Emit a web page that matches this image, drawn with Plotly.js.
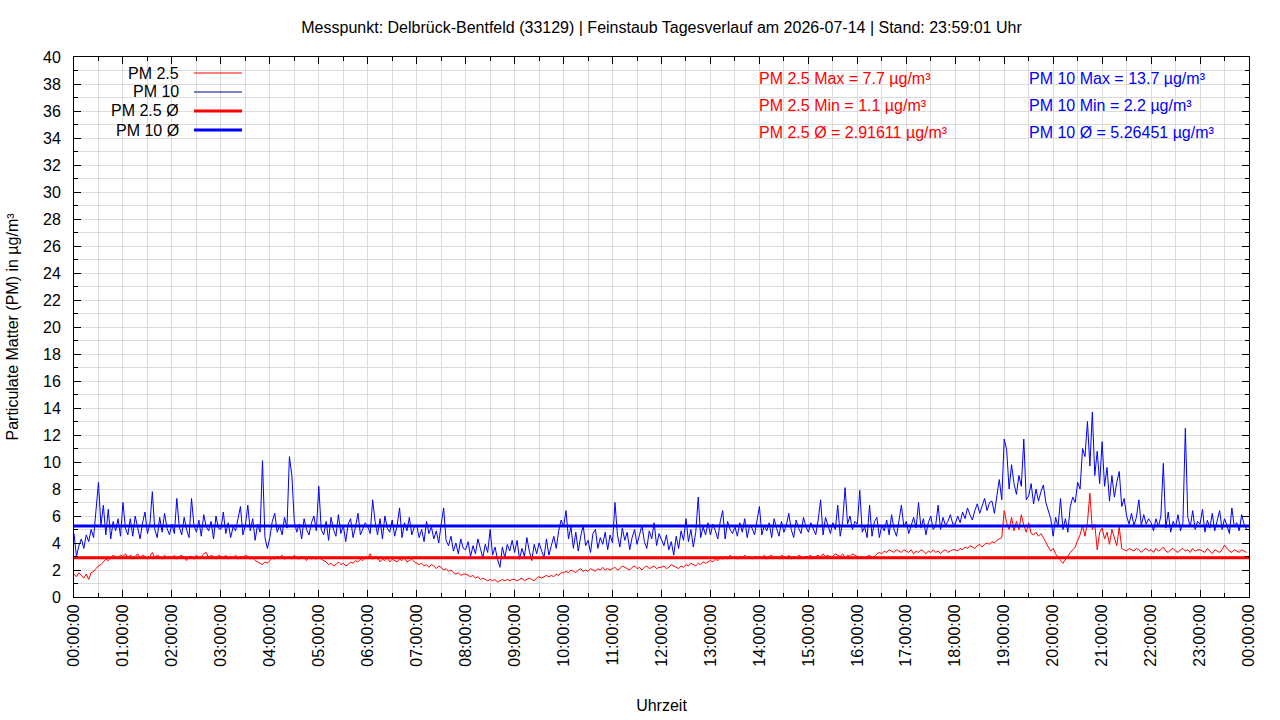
<!DOCTYPE html>
<html>
<head>
<meta charset="utf-8">
<script src="https://cdn.plot.ly/plotly-3.0.1.min.js"></script>
<style>
  html, body { margin: 0; padding: 0; background: #ffffff; }
  #chart { width: 1280px; height: 720px; }
</style>
</head>
<body>
<div id="chart"></div>
<script>
//Feinstaub Tagesverlauf, one value every 3 minutes
var dayStart = '2026-07-14';
var dayEnd = '2026-07-15';
var stepMinutes = 3;

//PM 10 in ug/m3, 20 values per hour, 00:00 ... 23:57
var pm10 = [
    4.7, 3.0, 3.8, 4.3, 3.6, 4.6, 4.1, 5.0, 4.4, 6.2, 8.5, 5.3, 6.8, 4.6, 6.5, 4.3, 5.6, 4.9, 5.8, 4.5,   //00
    7.0, 5.1, 4.6, 5.8, 4.5, 6.0, 5.2, 4.3, 5.5, 6.3, 4.7, 5.4, 7.8, 5.0, 4.4, 5.9, 4.8, 6.2, 5.1, 4.6,   //01
    5.4, 4.7, 7.3, 5.2, 4.6, 5.9, 5.0, 4.4, 7.3, 5.3, 4.8, 5.7, 4.5, 6.1, 5.2, 4.9, 5.6, 4.3, 6.0, 5.1,   //02
    5.0, 6.3, 4.7, 5.5, 4.4, 5.2, 4.9, 5.8, 6.7, 4.6, 5.3, 6.8, 4.9, 5.8, 4.2, 5.4, 4.8, 10.1, 4.4, 3.6,  //03
    4.4, 5.6, 6.2, 4.8, 5.3, 4.6, 5.9, 5.1, 10.4, 9.0, 5.6, 4.8, 5.4, 4.3, 5.8, 5.0, 4.6, 5.5, 6.0, 4.9,  //04
    8.2, 5.0, 4.6, 5.6, 4.2, 5.9, 5.0, 4.5, 6.1, 4.7, 5.3, 4.1, 5.4, 5.8, 4.4, 5.2, 6.2, 4.6, 5.0, 5.5,   //05
    5.2, 4.7, 7.2, 5.6, 4.6, 5.8, 4.3, 6.0, 5.1, 4.8, 5.7, 4.5, 5.3, 6.6, 4.4, 5.5, 4.9, 5.9, 4.6, 5.2,   //06
    5.3, 4.4, 5.0, 4.1, 5.6, 4.7, 5.2, 4.3, 4.9, 4.0, 5.4, 6.6, 4.2, 3.8, 4.5, 3.4, 4.0, 3.2, 4.3, 3.6,   //07
    3.5, 4.1, 3.0, 3.8, 3.2, 4.3, 3.6, 2.9, 3.9, 3.3, 5.0, 3.1, 3.7, 2.8, 2.2, 3.7, 2.9, 3.9, 3.4, 4.2,   //08
    3.3, 4.2, 2.8, 3.6, 3.0, 4.4, 3.4, 2.7, 3.9, 3.2, 4.0, 3.5, 2.9, 4.3, 3.1, 3.8, 4.5, 3.6, 4.9, 5.7,   //09
    5.2, 6.4, 4.3, 5.2, 3.6, 4.8, 3.4, 4.5, 5.3, 3.8, 4.2, 3.3, 4.7, 5.0, 3.6, 4.4, 3.9, 4.8, 3.5, 4.6,   //10
    4.0, 7.0, 4.6, 3.7, 5.1, 4.2, 4.8, 3.5, 4.4, 5.0, 3.9, 4.6, 5.3, 4.1, 3.6, 4.9, 4.3, 5.5, 3.8, 4.7,   //11
    4.3, 3.8, 4.6, 3.5, 4.1, 3.1, 4.5, 3.6, 4.9, 4.2, 5.8, 4.1, 5.0, 3.7, 4.8, 7.4, 4.4, 5.2, 4.6, 5.5,   //12
    4.6, 5.4, 4.9, 4.3, 5.6, 6.4, 4.3, 5.6, 5.0, 4.7, 5.2, 4.5, 5.5, 4.8, 5.8, 4.4, 5.3, 5.1, 4.6, 5.7,   //13
    6.7, 4.6, 5.3, 4.9, 5.5, 4.4, 5.8, 5.1, 4.5, 5.6, 4.8, 5.3, 6.2, 5.0, 4.4, 5.7, 5.1, 4.7, 5.9, 5.2,   //14
    4.8, 5.5, 5.0, 4.6, 5.7, 7.2, 4.6, 5.9, 5.3, 4.7, 5.5, 5.0, 6.8, 4.5, 5.6, 8.1, 5.4, 6.0, 5.0, 5.6,   //15
    5.4, 7.9, 4.8, 5.2, 4.4, 6.8, 4.5, 5.6, 5.9, 4.4, 5.3, 4.9, 5.7, 4.6, 6.1, 5.0, 4.5, 5.5, 6.8, 5.2,   //16
    5.6, 4.7, 5.4, 5.9, 5.1, 7.0, 5.1, 5.8, 4.6, 5.5, 6.0, 5.0, 5.3, 6.8, 5.0, 5.9, 5.3, 5.6, 6.1, 5.4,   //17
    5.4, 6.0, 5.5, 6.3, 5.8, 6.6, 6.1, 5.7, 6.4, 6.9, 6.2, 6.8, 7.3, 6.4, 7.0, 7.1, 6.2, 7.5, 8.7, 7.2,   //18
    11.7, 10.9, 8.0, 9.8, 8.4, 7.6, 9.0, 8.2, 11.7, 7.2, 7.5, 8.4, 6.9, 8.0, 7.1, 7.8, 8.3, 7.0, 6.4, 5.8, //19
    4.5, 5.9, 5.2, 7.3, 5.0, 5.8, 4.8, 6.7, 7.4, 7.0, 8.5, 8.0, 11.0, 10.4, 13.0, 9.7, 13.7, 9.0, 10.8, 8.4, //20
    11.5, 8.2, 9.6, 7.1, 9.0, 7.4, 8.5, 9.3, 6.7, 7.3, 6.0, 5.4, 6.2, 5.3, 5.9, 7.2, 5.3, 6.1, 5.4, 5.8,  //21
    5.5, 4.9, 5.8, 5.2, 6.0, 9.9, 5.1, 6.3, 4.8, 5.6, 5.2, 6.1, 4.9, 5.5, 12.5, 5.9, 5.2, 6.4, 5.0, 5.6,  //22
    5.4, 6.5, 4.8, 5.7, 5.1, 6.2, 4.9, 5.6, 6.4, 5.0, 5.8, 5.3, 4.7, 6.6, 5.2, 5.5, 4.9, 6.1, 5.4, 5.0    //23
];

//PM 2.5 in ug/m3, same time steps
var pm25 = [
    1.7, 1.5, 1.8, 1.6, 1.4, 1.7, 1.3, 1.8, 1.9, 2.1, 2.3, 2.4, 2.6, 2.8, 2.7, 2.9, 3.1, 3.0, 2.9, 3.1,   //00
    3.0, 3.2, 2.9, 3.1, 2.8, 3.0, 3.2, 2.9, 3.1, 3.0, 2.8, 3.0, 3.3, 2.9, 3.1, 3.0, 2.8, 3.1, 2.9, 3.0,   //01
    2.9, 3.1, 2.8, 3.0, 3.1, 2.9, 2.7, 3.0, 3.0, 2.8, 3.1, 2.9, 3.0, 3.2, 3.3, 2.9, 3.1, 3.0, 2.8, 3.1,   //02
    3.0, 2.9, 3.1, 2.8, 3.0, 2.9, 3.1, 2.8, 3.0, 2.9, 3.1, 3.0, 2.8, 2.9, 2.7, 2.6, 2.5, 2.4, 2.6, 2.5,   //03
    2.7, 2.9, 2.8, 3.0, 2.9, 3.1, 2.8, 2.9, 3.0, 2.8, 3.1, 2.9, 2.8, 3.0, 2.9, 2.7, 3.0, 2.8, 2.9, 2.8,   //04
    2.9, 2.8, 2.7, 2.6, 2.4, 2.5, 2.3, 2.4, 2.6, 2.4, 2.5, 2.3, 2.4, 2.6, 2.5, 2.7, 2.6, 2.8, 2.7, 2.9,   //05
    2.9, 3.2, 2.8, 3.0, 2.9, 2.6, 2.8, 2.7, 2.9, 2.6, 2.8, 2.7, 2.6, 2.8, 2.7, 2.9, 2.6, 2.7, 2.8, 2.6,   //06
    2.5, 2.4, 2.5, 2.3, 2.4, 2.2, 2.4, 2.3, 2.1, 2.3, 2.2, 2.0, 2.1, 1.9, 2.0, 1.8, 1.7, 1.8, 1.6, 1.7,   //07
    1.7, 1.6, 1.5, 1.6, 1.4, 1.5, 1.3, 1.4, 1.3, 1.2, 1.3, 1.2, 1.3, 1.1, 1.2, 1.3, 1.2, 1.3, 1.2, 1.3,   //08
    1.3, 1.2, 1.3, 1.4, 1.2, 1.3, 1.4, 1.3, 1.2, 1.4, 1.5, 1.4, 1.5, 1.6, 1.5, 1.6, 1.5, 1.7, 1.6, 1.8,   //09
    1.8, 1.9, 1.8, 2.0, 1.9, 1.8, 2.0, 2.1, 1.9, 2.0, 1.9, 2.1, 2.0, 1.9, 2.1, 2.0, 2.2, 2.0, 2.1, 2.0,   //10
    2.1, 2.2, 2.0, 2.1, 2.3, 2.2, 2.1, 2.0, 2.2, 2.3, 2.1, 2.2, 2.0, 2.2, 2.3, 2.1, 2.2, 2.3, 2.1, 2.2,   //11
    2.2, 2.3, 2.1, 2.2, 2.4, 2.3, 2.2, 2.1, 2.3, 2.2, 2.4, 2.3, 2.5, 2.4, 2.3, 2.5, 2.4, 2.6, 2.5, 2.6,   //12
    2.7, 2.6, 2.8, 2.7, 2.9, 2.8, 3.0, 2.8, 3.1, 2.9, 3.0, 2.8, 3.0, 2.9, 3.1, 2.9, 3.0, 2.8, 3.0, 2.9,   //13
    3.0, 2.9, 3.1, 2.8, 3.0, 3.1, 2.9, 3.0, 2.8, 3.1, 3.0, 2.9, 3.1, 2.8, 3.0, 2.9, 3.1, 3.0, 2.9, 3.0,   //14
    3.0, 3.1, 2.9, 3.0, 3.1, 2.9, 3.2, 3.0, 3.1, 2.9, 3.0, 3.2, 3.1, 3.0, 3.2, 2.9, 3.1, 3.0, 3.2, 3.1,   //15
    3.0, 2.9, 3.0, 2.9, 3.0, 3.1, 2.9, 3.0, 3.2, 3.3, 3.2, 3.4, 3.3, 3.5, 3.4, 3.3, 3.5, 3.4, 3.3, 3.5,   //16
    3.4, 3.3, 3.5, 3.2, 3.4, 3.3, 3.5, 3.4, 3.2, 3.4, 3.3, 3.5, 3.3, 3.4, 3.2, 3.4, 3.5, 3.3, 3.4, 3.5,   //17
    3.5, 3.4, 3.6, 3.5, 3.7, 3.6, 3.8, 3.7, 3.6, 3.8, 3.9, 3.7, 3.9, 4.0, 3.9, 4.1, 4.0, 4.2, 4.3, 4.4,   //18
    6.4, 5.5, 5.0, 5.9, 4.9, 5.6, 5.0, 6.1, 5.3, 4.8, 5.5, 4.7, 4.6, 4.8, 4.5, 4.7, 4.4, 4.0, 3.7, 3.4,   //19
    3.6, 3.2, 2.9, 2.7, 2.5, 2.8, 3.0, 3.3, 3.5, 3.7, 4.2, 4.6, 5.3, 4.5, 5.5, 7.7, 5.0, 5.4, 3.5, 4.8,   //20
    5.1, 4.3, 4.8, 3.9, 5.0, 4.4, 3.8, 5.2, 3.6, 3.5, 3.4, 3.6, 3.5, 3.4, 3.6, 3.5, 3.3, 3.5, 3.6, 3.4,   //21
    3.5, 3.3, 3.6, 3.4, 3.5, 3.7, 3.4, 3.3, 3.5, 3.6, 3.4, 3.3, 3.5, 3.6, 3.4, 3.5, 3.3, 3.6, 3.4, 3.5,   //22
    3.5, 3.4, 3.3, 3.6, 3.4, 3.2, 3.5, 3.4, 3.3, 3.5, 3.85, 3.6, 3.4, 3.3, 3.5, 3.4, 3.3, 3.5, 3.4, 3.3   //23
];

//Daily statistics as printed in the chart
var pm25Max = 7.7, pm25Min = 1.1, pm25Avg = 2.91611;
var pm10Max = 13.7, pm10Min = 2.2, pm10Avg = 5.26451;

var titleText = 'Messpunkt: Delbrück-Bentfeld (33129) | Feinstaub Tagesverlauf am 2026-07-14 | Stand: 23:59:01 Uhr';
var legendNames = ['PM 2.5', 'PM 10', 'PM 2.5 Ø', 'PM 10 Ø'];
var legendColors = ['#ff0000', '#00008b', '#ff0000', '#0000ff'];
var legendWidths = [1, 1, 3, 3];

//Build the time stamps for each sample
function pad(n) { return (n < 10 ? '0' : '') + n; }
var times = [];
for (var i = 0; i < pm10.length; i++) {
    var m = i * stepMinutes;
    times.push(dayStart + ' ' + pad(Math.floor(m / 60)) + ':' + pad(m % 60) + ':00');
}
var fullDay = [dayStart + ' 00:00:00', dayEnd + ' 00:00:00'];

var font = 'Liberation Sans, Arial, sans-serif';

var data = [
    { x: times, y: pm25, type: 'scatter', mode: 'lines', name: 'PM 2.5',
      line: {color: '#ff0000', width: 1}, showlegend: false },
    { x: times, y: pm10, type: 'scatter', mode: 'lines', name: 'PM 10',
      line: {color: '#0000ff', width: 1}, showlegend: false },
    { x: fullDay, y: [pm25Avg, pm25Avg], type: 'scatter', mode: 'lines', name: 'PM 2.5 Ø',
      line: {color: '#ff0000', width: 3}, showlegend: false },
    { x: fullDay, y: [pm10Avg, pm10Avg], type: 'scatter', mode: 'lines', name: 'PM 10 Ø',
      line: {color: '#0000ff', width: 3}, showlegend: false }
];

//Legend drawn gnuplot style: text on the left, line sample on the right
var annotations = [];
var shapes = [];
for (var k = 0; k < legendNames.length; k++) {
    var yp = 1 - (16 + 19 * k) / 540;
    annotations.push({ xref: 'paper', yref: 'paper', x: 107 / 1175, y: yp,
        xanchor: 'right', yanchor: 'middle', showarrow: false, text: legendNames[k],
        font: {family: font, size: 16, color: '#000000'} });
    shapes.push({ type: 'line', xref: 'paper', yref: 'paper',
        x0: 120 / 1175, x1: 168 / 1175, y0: yp, y1: yp,
        line: {color: legendColors[k], width: legendWidths[k]} });
}

//Statistics text
var statsRed = [
    'PM 2.5 Max = ' + pm25Max + ' µg/m³',
    'PM 2.5 Min = ' + pm25Min + ' µg/m³',
    'PM 2.5 Ø = ' + pm25Avg + ' µg/m³'
];
var statsBlue = [
    'PM 10 Max = ' + pm10Max + ' µg/m³',
    'PM 10 Min = ' + pm10Min + ' µg/m³',
    'PM 10 Ø = ' + pm10Avg + ' µg/m³'
];
for (var s = 0; s < 3; s++) {
    var ys = 1 - (21.5 + 27 * s) / 540;
    annotations.push({ xref: 'paper', yref: 'paper', x: 683 / 1175, y: ys,
        xanchor: 'left', yanchor: 'middle', showarrow: false, text: statsRed[s],
        font: {family: font, size: 16, color: '#ff0000'} });
    annotations.push({ xref: 'paper', yref: 'paper', x: 953 / 1175, y: ys,
        xanchor: 'left', yanchor: 'middle', showarrow: false, text: statsBlue[s],
        font: {family: font, size: 16, color: '#0000ff'} });
}

var layout = {
    width: 1280, height: 720,
    margin: { l: 74, r: 31, t: 57, b: 123 },
    paper_bgcolor: '#ffffff', plot_bgcolor: '#ffffff',
    font: {family: font, size: 16, color: '#000000'},
    title: { text: titleText, x: 0.5, xref: 'paper', y: 1 - 27 / 720, yanchor: 'middle',
             font: {family: font, size: 16, color: '#000000'} },
    showlegend: false,
    xaxis: {
        type: 'date', range: fullDay,
        dtick: 3600000, tick0: fullDay[0], tickformat: '%H:%M:%S', tickangle: -90,
        ticks: 'inside', ticklen: 7, tickcolor: '#000000', tickwidth: 1,
        showline: true, linecolor: '#000000', linewidth: 1, mirror: 'allticks',
        showgrid: true, gridcolor: '#dcdcdc', gridwidth: 1, zeroline: false,
        minor: { dtick: 1800000, ticks: 'inside', ticklen: 4, tickcolor: '#000000',
                 showgrid: true, gridcolor: '#dcdcdc', gridwidth: 1 },
        tickfont: {family: font, size: 16, color: '#000000'},
        title: { text: 'Uhrzeit', standoff: 34, font: {family: font, size: 16, color: '#000000'} }
    },
    yaxis: {
        range: [0, 40], dtick: 2, tick0: 0,
        ticks: 'inside', ticklen: 7, tickcolor: '#000000', tickwidth: 1,
        showline: true, linecolor: '#000000', linewidth: 1, mirror: 'allticks',
        showgrid: true, gridcolor: '#dcdcdc', gridwidth: 1, zeroline: false,
        minor: { dtick: 1, ticks: 'inside', ticklen: 4, tickcolor: '#000000',
                 showgrid: true, gridcolor: '#dcdcdc', gridwidth: 1 },
        ticklabelstandoff: 9,
        tickfont: {family: font, size: 16, color: '#000000'},
        title: { text: 'Particulate Matter (PM) in µg/m³', standoff: 20,
                 font: {family: font, size: 16, color: '#000000'} }
    },
    annotations: annotations,
    shapes: shapes
};

Plotly.newPlot('chart', data, layout, {staticPlot: true, displayModeBar: false});
</script>
</body>
</html>
